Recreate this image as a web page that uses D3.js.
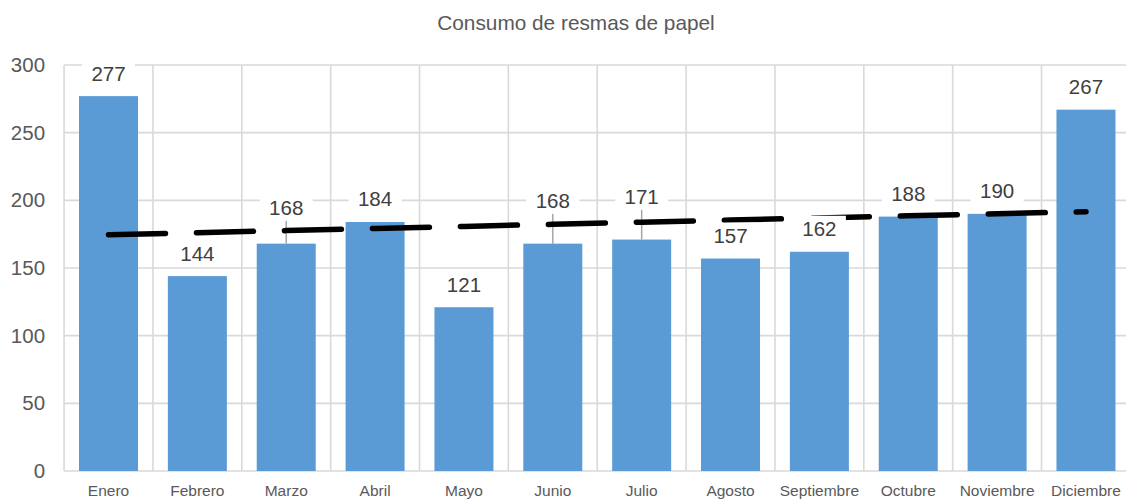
<!DOCTYPE html>
<html>
<head>
<meta charset="utf-8">
<script src="https://cdn.jsdelivr.net/npm/d3@7"></script>
<style>
  body { margin: 0; background: #fff; }
  svg { display: block; font-family: "Liberation Sans", Arial, sans-serif; }
</style>
</head>
<body>
<div id="chart"></div>
<script>
// data
const months = ["Enero", "Febrero", "Marzo", "Abril", "Mayo", "Junio", "Julio",
  "Agosto", "Septiembre", "Octubre", "Noviembre", "Diciembre"]
const resmas = [277, 144, 168, 184, 121, 168, 171, 157, 162, 188, 190, 267]
const yTicks = [0, 50, 100, 150, 200, 250, 300]
const title = "Consumo de resmas de papel"

// how far (px) each data label sits above its bar; Excel pushed a few up
const labelLift = [23, 23, 36, 23, 23, 43, 43, 23, 23, 23, 23, 23]

const width = 1126, height = 501
const plotLeft = 64.07, plotRight = 1130.4, plotTop = 65, plotBottom = 471

const svg = d3.select("#chart").append("svg")
  .attr("width", width)
  .attr("height", height)

const x = d3.scaleBand()
  .domain(months)
  .range([plotLeft, plotRight])
  .paddingInner(0.336)
  .paddingOuter(0.168)

const y = d3.scaleLinear()
  .domain([0, 300])
  .range([plotBottom, plotTop])

const grid = "#d9d9d9"

// horizontal gridlines
svg.append("g")
  .selectAll("line")
  .data(yTicks)
  .join("line")
  .attr("x1", plotLeft).attr("x2", plotRight)
  .attr("y1", d => y(d)).attr("y2", d => y(d))
  .attr("stroke", grid)
  .attr("stroke-width", 1.6)

// vertical gridlines on category boundaries
const step = x.step()
svg.append("g")
  .selectAll("line")
  .data(d3.range(months.length + 1))
  .join("line")
  .attr("x1", i => plotLeft + i * step).attr("x2", i => plotLeft + i * step)
  .attr("y1", plotTop).attr("y2", plotBottom)
  .attr("stroke", grid)
  .attr("stroke-width", 1.6)

// y axis labels
const yAxis = svg.append("g")
  .attr("transform", "translate(" + (plotLeft - 19) + ",0)")
  .call(d3.axisLeft(y).tickValues(yTicks).tickSize(0).tickPadding(0))
yAxis.select(".domain").remove()
yAxis.selectAll("text")
  .attr("font-size", 20.5)
  .attr("font-family", "Liberation Sans, Arial, sans-serif")
  .attr("fill", "#595959")

// x axis labels
const xAxis = svg.append("g")
  .attr("transform", "translate(0," + plotBottom + ")")
  .call(d3.axisBottom(x).tickSize(0).tickPadding(14))
xAxis.select(".domain").remove()
xAxis.selectAll("text")
  .attr("font-size", 15.5)
  .attr("font-family", "Liberation Sans, Arial, sans-serif")
  .attr("fill", "#595959")

// bars
svg.append("g")
  .selectAll("rect")
  .data(resmas)
  .join("rect")
  .attr("x", (d, i) => x(months[i]))
  .attr("y", d => y(d))
  .attr("width", x.bandwidth())
  .attr("height", d => plotBottom - y(d))
  .attr("fill", "#5b9bd5")

// leader lines for labels that were moved up
svg.append("g")
  .selectAll("line")
  .data(resmas.map((d, i) => ({ v: d, i })).filter(d => labelLift[d.i] > 30))
  .join("line")
  .attr("x1", d => x(months[d.i]) + x.bandwidth() / 2)
  .attr("x2", d => x(months[d.i]) + x.bandwidth() / 2)
  .attr("y1", d => y(d.v) - labelLift[d.i] + 13)
  .attr("y2", d => y(d.v))
  .attr("stroke", "#a6a6a6")
  .attr("stroke-width", 1.5)

// linear trendline (least squares over month index)
const xs = d3.range(1, months.length + 1)
const mx = d3.mean(xs), my = d3.mean(resmas)
const slope = d3.sum(xs, (k, i) => (k - mx) * (resmas[i] - my)) / d3.sum(xs, k => (k - mx) * (k - mx))
const trend = xs.map(k => my + slope * (k - mx))

svg.append("path")
  .datum(trend)
  .attr("d", d3.line()
    .x((d, i) => x(months[i]) + x.bandwidth() / 2)
    .y(d => y(d)))
  .attr("fill", "none")
  .attr("stroke", "#000")
  .attr("stroke-width", 5.5)
  .attr("stroke-linecap", "round")
  .attr("stroke-dasharray", "57,31")

// data labels with white boxes
const labels = svg.append("g")
  .selectAll("g")
  .data(resmas)
  .join("g")
  .attr("transform", (d, i) => "translate(" + (x(months[i]) + x.bandwidth() / 2) + "," + (y(d) - labelLift[i]) + ")")

labels.append("rect")
  .attr("x", -26.5).attr("y", -13)
  .attr("width", 53).attr("height", 26)
  .attr("fill", "#fff")

labels.append("text")
  .attr("text-anchor", "middle")
  .attr("dy", "0.36em")
  .attr("font-size", 20.5)
  .attr("fill", "#404040")
  .text(d => d)

// title
svg.append("text")
  .attr("x", 576)
  .attr("y", 30)
  .attr("text-anchor", "middle")
  .attr("font-size", 20.8)
  .attr("fill", "#595959")
  .text(title)
</script>
</body>
</html>
